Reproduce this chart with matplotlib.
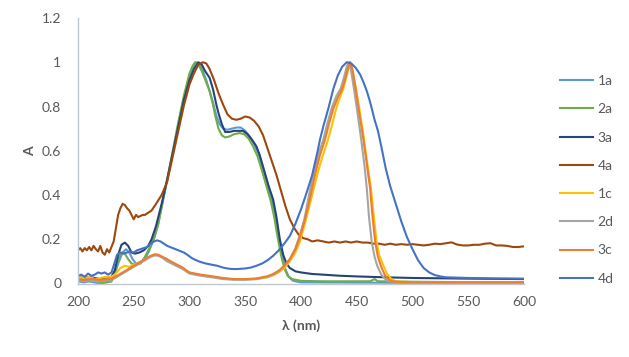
import matplotlib
matplotlib.use('Agg')
import matplotlib.pyplot as plt

plt.rcParams['font.family'] = ['Lato', 'DejaVu Sans']

# absorbance / emission spectra
wl_1a = [200, 205, 210, 215, 220, 225, 230, 233, 236, 240, 243, 246, 249, 252, 256, 260, 264, 268, 272, 276,
         280, 285, 290, 295, 300, 303, 306, 309, 312, 315, 318, 321, 324, 327, 330, 334, 338, 342, 346, 350,
         354, 358, 362, 366, 370, 374, 377, 380, 383, 386, 389, 393, 400, 450, 500, 600]
a_1a = [0.01, 0.005, 0.01, 0.005, 0.0, 0.005, 0.01, 0.04, 0.09, 0.14, 0.155, 0.14, 0.11, 0.09, 0.095, 0.11,
        0.15, 0.2, 0.27, 0.37, 0.47, 0.59, 0.72, 0.84, 0.94, 0.98, 1.0, 0.99, 0.96, 0.92, 0.87, 0.82, 0.76,
        0.72, 0.70, 0.695, 0.70, 0.705, 0.705, 0.69, 0.665, 0.63, 0.585, 0.52, 0.45, 0.38, 0.30, 0.21, 0.13,
        0.065, 0.03, 0.012, 0.005, 0.004, 0.003, 0.003]

wl_2a = [200, 205, 210, 215, 220, 225, 230, 233, 236, 239, 242, 245, 248, 252, 256, 260, 264, 268, 272, 276,
         280, 285, 290, 295, 300, 303, 305, 308, 311, 315, 318, 321, 323, 326, 329, 332, 336, 340, 345, 349,
         353, 357, 361, 365, 369, 373, 376, 379, 382, 385, 388, 392, 400, 420, 450, 462, 466, 469, 500, 550, 600]
a_2a = [0.01, 0.015, 0.01, 0.015, 0.005, 0.005, 0.01, 0.05, 0.11, 0.14, 0.135, 0.11, 0.09, 0.085, 0.09, 0.12,
        0.16, 0.2, 0.27, 0.37, 0.47, 0.6, 0.73, 0.85, 0.95, 0.985, 1.0, 0.99, 0.96, 0.91, 0.87, 0.81, 0.76,
        0.70, 0.67, 0.66, 0.665, 0.675, 0.68, 0.675, 0.655, 0.62, 0.575, 0.51, 0.44, 0.37, 0.30, 0.21, 0.13,
        0.07, 0.035, 0.02, 0.012, 0.01, 0.01, 0.01, 0.02, 0.01, 0.008, 0.006, 0.005]

wl_3a = [200, 205, 210, 215, 220, 225, 230, 233, 236, 239, 242, 245, 248, 251, 255, 259, 263, 266, 270, 275,
         280, 285, 290, 295, 300, 304, 308, 311, 314, 318, 321, 324, 326, 329, 332, 336, 340, 344, 348, 352,
         356, 360, 363, 367, 371, 375, 378, 381, 384, 387, 390, 395, 400, 410, 420, 435, 450, 475, 500, 550, 600]
a_3a = [0.03, 0.025, 0.03, 0.025, 0.02, 0.025, 0.03, 0.06, 0.13, 0.175, 0.185, 0.17, 0.14, 0.135, 0.14, 0.15,
        0.17, 0.2, 0.26, 0.36, 0.47, 0.59, 0.71, 0.83, 0.92, 0.97, 1.0, 0.99, 0.96, 0.93, 0.88, 0.81, 0.77,
        0.72, 0.685, 0.685, 0.69, 0.69, 0.69, 0.675, 0.65, 0.62, 0.58, 0.51, 0.44, 0.38, 0.30, 0.20, 0.13,
        0.09, 0.07, 0.055, 0.05, 0.043, 0.04, 0.035, 0.032, 0.028, 0.025, 0.022, 0.02]

wl_4a = [200, 202, 204, 206, 208, 210, 212, 214, 216, 218, 220, 222, 224, 226, 228, 230, 232, 234, 236, 238,
         240, 242, 244, 246, 248, 250, 252, 254, 256, 258, 260, 263, 266, 270, 275, 280, 285, 290, 295, 300,
         304, 308, 312, 315, 318, 322, 326, 330, 334, 338, 342, 346, 350, 354, 358, 362, 366, 370, 374, 378,
         382, 386, 390, 394, 398, 402, 406, 410, 415, 420, 425, 430, 435, 440, 445, 450, 455, 460, 465, 470,
         475, 480, 485, 490, 495, 500, 505, 510, 515, 520, 525, 530, 535, 540, 545, 550, 555, 560, 565, 570,
         575, 580, 585, 590, 595, 600]
a_4a = [0.15, 0.16, 0.145, 0.16, 0.15, 0.165, 0.15, 0.17, 0.155, 0.145, 0.17, 0.14, 0.13, 0.155, 0.14, 0.165,
        0.19, 0.25, 0.31, 0.34, 0.36, 0.355, 0.34, 0.33, 0.31, 0.29, 0.31, 0.30, 0.305, 0.31, 0.31, 0.32,
        0.33, 0.36, 0.40, 0.46, 0.575, 0.69, 0.805, 0.90, 0.95, 0.99, 1.0, 0.995, 0.97, 0.92, 0.86, 0.81,
        0.765, 0.745, 0.74, 0.745, 0.755, 0.75, 0.735, 0.71, 0.67, 0.61, 0.55, 0.49, 0.42, 0.35, 0.29, 0.25,
        0.22, 0.205, 0.2, 0.19, 0.195, 0.19, 0.185, 0.19, 0.185, 0.19, 0.185, 0.19, 0.185, 0.185, 0.18, 0.18,
        0.175, 0.18, 0.175, 0.178, 0.175, 0.178, 0.175, 0.172, 0.175, 0.18, 0.178, 0.182, 0.186, 0.176, 0.172,
        0.172, 0.175, 0.175, 0.18, 0.182, 0.172, 0.172, 0.17, 0.165, 0.165, 0.168]

wl_1c = [200, 205, 210, 215, 220, 225, 230, 234, 238, 242, 246, 250, 255, 260, 265, 269, 272, 276, 280, 285,
         290, 294, 297, 300, 305, 310, 320, 330, 340, 350, 360, 370, 375, 380, 385, 390, 395, 399, 403, 407,
         411, 415, 419, 423.6, 427, 431, 434, 438, 441, 444, 446, 449, 452, 456, 459, 462.7, 465, 467.5, 470,
         474, 477, 481, 485, 500, 550, 600]
a_1c = [0.03, 0.025, 0.03, 0.02, 0.025, 0.03, 0.03, 0.045, 0.07, 0.08, 0.075, 0.085, 0.095, 0.11, 0.122, 0.13,
        0.128, 0.118, 0.105, 0.09, 0.078, 0.068, 0.058, 0.048, 0.043, 0.038, 0.03, 0.022, 0.018, 0.018, 0.02,
        0.028, 0.037, 0.05, 0.07, 0.1, 0.14, 0.19, 0.26, 0.34, 0.42, 0.5, 0.57, 0.64, 0.7, 0.78, 0.83, 0.88,
        0.94, 1.0, 0.97, 0.89, 0.8, 0.67, 0.56, 0.43, 0.32, 0.2, 0.13, 0.08, 0.045, 0.02, 0.01, 0.006, 0.005,
        0.005]

wl_2d = [200, 205, 210, 215, 220, 225, 230, 235, 240, 245, 250, 255, 260, 265, 269, 272, 276, 280, 285, 290,
         294, 297, 300, 305, 310, 320, 330, 340, 350, 360, 370, 375, 380, 385, 390, 395, 399, 403, 408, 412,
         416, 420, 424, 428, 432, 435.6, 439, 441, 443, 445, 447.5, 451, 454, 457, 459, 461, 463.4, 466, 468.4,
         472, 477, 485, 520, 600]
a_2d = [0.015, 0.01, 0.015, 0.01, 0.01, 0.015, 0.015, 0.03, 0.045, 0.06, 0.075, 0.09, 0.105, 0.12, 0.127, 0.125,
        0.115, 0.1, 0.088, 0.075, 0.065, 0.055, 0.045, 0.04, 0.035, 0.028, 0.02, 0.017, 0.017, 0.02, 0.03, 0.04,
        0.055, 0.078, 0.11, 0.16, 0.22, 0.29, 0.42, 0.51, 0.59, 0.65, 0.73, 0.8, 0.85, 0.88, 0.94, 0.98, 1.0,
        0.96, 0.88, 0.76, 0.65, 0.53, 0.43, 0.30, 0.19, 0.12, 0.08, 0.04, 0.012, 0.006, 0.005, 0.005]

wl_3c = [200, 205, 210, 215, 220, 225, 230, 235, 240, 245, 250, 255, 260, 265, 269, 272, 276, 280, 285, 290,
         294, 297, 300, 305, 310, 320, 330, 340, 350, 360, 370, 375, 380, 385, 390, 395, 399, 403, 406, 409.5,
         413, 417, 421.5, 425, 429, 433, 437, 440, 442, 444, 446, 449, 452, 456, 459, 462, 464, 466.5, 469,
         472, 475, 478, 482, 490, 520, 560, 600]
a_3c = [0.02, 0.015, 0.02, 0.02, 0.015, 0.02, 0.02, 0.035, 0.05, 0.065, 0.08, 0.095, 0.11, 0.125, 0.132, 0.13,
        0.12, 0.11, 0.095, 0.082, 0.072, 0.06, 0.05, 0.045, 0.04, 0.033, 0.025, 0.02, 0.02, 0.023, 0.033, 0.043,
        0.058, 0.08, 0.11, 0.155, 0.21, 0.28, 0.34, 0.42, 0.5, 0.58, 0.65, 0.72, 0.79, 0.84, 0.88, 0.93, 0.97,
        1.0, 0.97, 0.88, 0.78, 0.65, 0.54, 0.43, 0.31, 0.19, 0.12, 0.075, 0.04, 0.02, 0.01, 0.006, 0.005, 0.005,
        0.005]

wl_4d = [200, 203, 206, 209, 212, 215, 218, 221, 224, 227, 230, 232, 235, 238, 241, 244, 247, 250, 253, 256,
         259, 262, 265, 268, 271, 274, 277, 280, 285, 290, 295, 298, 302, 306, 310, 315, 320, 325, 330, 335,
         340, 345, 350, 355, 360, 365, 370, 375, 380, 385, 390, 395, 400, 405, 408, 410, 415, 417, 420, 425,
         429, 433, 437, 441, 445, 449, 453, 456, 459, 462, 466, 469, 472, 476, 480, 485, 490, 495, 500, 505,
         510, 515, 520, 525, 530, 550, 575, 600]
a_4d = [0.035, 0.04, 0.03, 0.045, 0.035, 0.04, 0.05, 0.045, 0.05, 0.04, 0.05, 0.08, 0.13, 0.14, 0.135, 0.14,
        0.145, 0.14, 0.15, 0.155, 0.16, 0.165, 0.18, 0.19, 0.195, 0.19, 0.18, 0.17, 0.16, 0.15, 0.14, 0.13,
        0.115, 0.105, 0.097, 0.09, 0.085, 0.08, 0.072, 0.067, 0.065, 0.066, 0.068, 0.072, 0.08, 0.09, 0.105,
        0.125, 0.15, 0.18, 0.215, 0.27, 0.335, 0.41, 0.457, 0.49, 0.6, 0.65, 0.71, 0.8, 0.88, 0.94, 0.98, 1.0,
        0.995, 0.975, 0.945, 0.91, 0.87, 0.82, 0.74, 0.69, 0.62, 0.52, 0.44, 0.36, 0.28, 0.21, 0.155, 0.105,
        0.07, 0.05, 0.038, 0.032, 0.028, 0.025, 0.023, 0.022]

series = [
    ('1a', wl_1a, a_1a, '#5B9BD5'),
    ('2a', wl_2a, a_2a, '#70AD47'),
    ('3a', wl_3a, a_3a, '#264478'),
    ('4a', wl_4a, a_4a, '#9E480E'),
    ('1c', wl_1c, a_1c, '#FFC000'),
    ('2d', wl_2d, a_2d, '#A5A5A5'),
    ('3c', wl_3c, a_3c, '#ED7D31'),
    ('4d', wl_4d, a_4d, '#4472C4'),
]

txt = '#595959'
fig = plt.figure(figsize=(6.29, 3.57), dpi=100)
ax = fig.add_axes([78 / 629, 1 - 283.5 / 357, 446 / 629, 265.5 / 357])

for name, wl, a, col in series:
    ax.plot(wl, a, color=col, lw=1.5, label=name)

ax.set_xlim(200, 600)
ax.set_ylim(0, 1.2)
ax.set_xticks([200, 250, 300, 350, 400, 450, 500, 550, 600])
ax.set_yticks([0, 0.2, 0.4, 0.6, 0.8, 1, 1.2])
ax.set_yticklabels(['0', '0.2', '0.4', '0.6', '0.8', '1', '1.2'])
ax.tick_params(length=0, labelsize=10, colors=txt)
ax.tick_params(axis='x', pad=9)
ax.tick_params(axis='y', pad=12)
for s in ['top', 'right']:
    ax.spines[s].set_visible(False)
for s in ['left', 'bottom']:
    ax.spines[s].set_color('#BFC7D5')
    ax.spines[s].set_linewidth(1.0)

ax.set_xlabel('λ (nm)', fontsize=10, fontweight='bold', color=txt, labelpad=8)
ax.set_ylabel('A', fontsize=10, fontweight='bold', color=txt, labelpad=4)

fig.legend(loc='upper left', bbox_to_anchor=(560 / 629, 1 - 75 / 357), frameon=False,
           fontsize=10, labelcolor=txt, handlelength=2.4, handletextpad=0.3,
           labelspacing=1.17, borderpad=0, borderaxespad=0)

fig.savefig('out.png', dpi=100)
